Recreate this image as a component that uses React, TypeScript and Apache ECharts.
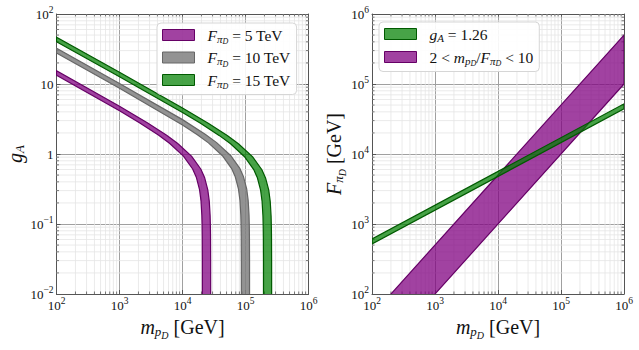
import React, { useEffect, useRef } from "react";
import * as echarts from "echarts";

// ---- Left panel: g_A vs m_pD, lower / upper edge of each band ----
const m5Lo = [100, 1000, 2070, 4140, 6210, 10350, 14490, 16560, 18630, 19665, 20286, 20493, 20596, 20679, 20698, 20699.8];
const g5Lo = [13.38, 4.139, 2.8, 1.865, 1.424, 0.9325, 0.6105, 0.4663, 0.3108, 0.2139, 0.1333, 0.0937, 0.0661, 0.0295, 0.00933, 0.00295];
const m5Hi = [100, 1000, 2800, 5600, 8400, 14000, 19600, 22400, 25200, 26600, 27440, 27720, 27860, 27972, 27997, 27999.7];
const g5Hi = [15.46, 4.811, 2.777, 1.852, 1.414, 0.9258, 0.6061, 0.4629, 0.3086, 0.2124, 0.1323, 0.093, 0.0656, 0.0293, 0.00926, 0.00293];

const m10Lo = [100, 1000, 10000, 17200, 25800, 43000, 60200, 68800, 77400, 81700, 84280, 85140, 85570, 85914, 85991, 85999];
const g10Lo = [27.68, 8.707, 2.603, 1.889, 1.443, 0.9444, 0.6183, 0.4722, 0.3148, 0.2166, 0.135, 0.0949, 0.067, 0.0299, 0.00944, 0.00299];
const m10Hi = [100, 1000, 10000, 23200, 34800, 58000, 81200, 92800, 104400, 110200, 113680, 114840, 115420, 115884, 115988, 115999];
const g10Hi = [32.39, 10.2, 3.098, 1.903, 1.453, 0.9514, 0.6229, 0.4757, 0.3171, 0.2183, 0.136, 0.0956, 0.0675, 0.0301, 0.00951, 0.00301];

const m15Lo = [100, 1000, 10000, 19300, 38600, 57900, 96500, 135100, 154400, 173700, 183350, 189140, 191070, 192035, 192807, 192981, 192998];
const g15Lo = [40.19, 12.68, 3.914, 2.745, 1.83, 1.398, 0.9151, 0.5991, 0.4576, 0.305, 0.2099, 0.1308, 0.092, 0.0649, 0.029, 0.00915, 0.0029];
const m15Hi = [100, 1000, 10000, 26000, 52000, 78000, 130000, 182000, 208000, 234000, 247000, 254800, 257400, 258700, 259740, 259974, 259997];
const g15Hi = [46.47, 14.67, 4.557, 2.735, 1.823, 1.392, 0.9115, 0.5968, 0.4558, 0.3038, 0.2091, 0.1303, 0.0916, 0.0646, 0.0288, 0.00912, 0.00288];

// ---- Right panel: F_piD vs m_pD ----
const mGa = [100, 1000000];
const fGaLo = [519, 44200];
const fGaHi = [610, 51900];
const mRatio = [100, 1000000];
const fRatioLo = [10, 100000]; // m/F = 10
const fRatioHi = [50, 500000]; // m/F = 2

// axis ranges
const xRange = [100, 1000000];
const yRangeL = [0.01, 100];
const yRangeR = [100, 1000000];

const SERIF = '"Liberation Serif", "DejaVu Serif", serif';

const PURPLE_FILL = "rgba(128,0,128,0.74)";
const PURPLE_EDGE = "#660066";
const GRAY_FILL = "rgba(128,128,128,0.85)";
const GRAY_EDGE = "#666666";
const GREEN_FILL = "rgba(0,128,0,0.72)";
const GREEN_EDGE = "#005a00";

const TXT = "#111";

const tickRich = {
  b: { fontFamily: SERIF, fontSize: 13, color: TXT },
  s: { fontFamily: SERIF, fontSize: 9.5, color: TXT, padding: [0, 0, 9, 0] },
};

const nameRich = {
  it: { fontFamily: SERIF, fontStyle: "italic", fontSize: 20, color: TXT },
  sub: { fontFamily: SERIF, fontStyle: "italic", fontSize: 13, color: TXT, padding: [9, 0, 0, 0] },
  subsub: { fontFamily: SERIF, fontStyle: "italic", fontSize: 10, color: TXT, padding: [17, 0, 0, 0] },
  r: { fontFamily: SERIF, fontSize: 20, color: TXT },
};

const legRich = {
  sp: { fontFamily: SERIF, fontSize: 15.5, width: 8 },
  it: { fontFamily: SERIF, fontStyle: "italic", fontSize: 15.5, color: TXT },
  sub: { fontFamily: SERIF, fontStyle: "italic", fontSize: 11, color: TXT, padding: [7, 0, 0, 0] },
  subsub: { fontFamily: SERIF, fontStyle: "italic", fontSize: 8, color: TXT, padding: [13, 0, 0, 0] },
  r: { fontFamily: SERIF, fontSize: 15.5, color: TXT },
};

const powLabel = (v: number) => {
  const e = Math.round(Math.log10(v));
  return `{b|10}{s|${e < 0 ? "\u2212" + -e : e}}`;
};
const powLabelG = (v: number) => {
  const e = Math.round(Math.log10(v));
  if (e === 1) return "{b|10}";
  if (e === 0) return "{b|1}";
  return powLabel(v);
};

const minorValues = (lo: number, hi: number) => {
  const out: number[] = [];
  for (let e = Math.round(Math.log10(lo)); e < Math.round(Math.log10(hi)); e++) {
    for (let k = 2; k <= 9; k++) out.push(k * Math.pow(10, e));
  }
  return out;
};

const FRAME = "#555";
const MAJOR_GRID = "#a0a0a0";
const MINOR_GRID = "#e4e4e4";

function minorXSeries(xi: number, yi: number, yr: number[]) {
  return {
    type: "custom",
    xAxisIndex: xi,
    yAxisIndex: yi,
    z: 1,
    silent: true,
    data: minorValues(xRange[0], xRange[1]).map((v) => [v, yr[0]]),
    renderItem: (_p: any, api: any) => {
      const v = api.value(0);
      const a = api.coord([v, yr[0]]);
      const b = api.coord([v, yr[1]]);
      return {
        type: "group",
        children: [
          { type: "line", shape: { x1: a[0], y1: a[1], x2: b[0], y2: b[1] }, style: { stroke: MINOR_GRID, lineWidth: 0.8 } },
          { type: "line", shape: { x1: a[0], y1: a[1], x2: a[0], y2: a[1] - 2.5 }, style: { stroke: FRAME, lineWidth: 0.8 } },
          { type: "line", shape: { x1: b[0], y1: b[1], x2: b[0], y2: b[1] + 2.5 }, style: { stroke: FRAME, lineWidth: 0.8 } },
        ],
      };
    },
  };
}

function minorYSeries(xi: number, yi: number, yr: number[]) {
  return {
    type: "custom",
    xAxisIndex: xi,
    yAxisIndex: yi,
    z: 1,
    silent: true,
    data: minorValues(yr[0], yr[1]).map((v) => [xRange[0], v]),
    renderItem: (_p: any, api: any) => {
      const v = api.value(1);
      const a = api.coord([xRange[0], v]);
      const b = api.coord([xRange[1], v]);
      return {
        type: "group",
        children: [
          { type: "line", shape: { x1: a[0], y1: a[1], x2: b[0], y2: b[1] }, style: { stroke: MINOR_GRID, lineWidth: 0.8 } },
          { type: "line", shape: { x1: a[0], y1: a[1], x2: a[0] + 2.5, y2: a[1] }, style: { stroke: FRAME, lineWidth: 0.8 } },
          { type: "line", shape: { x1: b[0], y1: b[1], x2: b[0] - 2.5, y2: b[1] }, style: { stroke: FRAME, lineWidth: 0.8 } },
        ],
      };
    },
  };
}

function bandSeries(name: string, xi: number, yi: number, mLo: number[], yLo: number[], mHi: number[], yHi: number[], fill: string, edge: string) {
  return {
    type: "custom",
    name,
    xAxisIndex: xi,
    yAxisIndex: yi,
    clip: true,
    z: 3,
    itemStyle: { color: fill, borderColor: edge, borderWidth: 1 },
    data: [[mLo[0], yLo[0]]],
    renderItem: (_p: any, api: any) => {
      const pts: number[][] = [];
      for (let i = 0; i < mLo.length; i++) pts.push(api.coord([mLo[i], yLo[i]]));
      for (let i = mHi.length - 1; i >= 0; i--) pts.push(api.coord([mHi[i], yHi[i]]));
      return { type: "polygon", shape: { points: pts }, style: { fill, stroke: edge, lineWidth: 1.2 } };
    },
  };
}

function xAxes(gridIndex: number) {
  return [
    {
      type: "log", gridIndex, position: "bottom", min: xRange[0], max: xRange[1], logBase: 10,
      axisLine: { lineStyle: { color: FRAME, width: 1 } },
      axisTick: { inside: true, length: 4, lineStyle: { color: FRAME } },
      axisLabel: { formatter: powLabel, rich: tickRich, margin: 2 },
      splitLine: { show: true, lineStyle: { color: MAJOR_GRID, width: 1 } },
      name: "{it|m}{sub|p}{subsub|D}{r| [GeV]}",
      nameLocation: "middle",
      nameGap: 17,
      nameTextStyle: { rich: nameRich },
    },
    {
      type: "log", gridIndex, position: "top", min: xRange[0], max: xRange[1], logBase: 10,
      axisLine: { lineStyle: { color: FRAME, width: 1 } },
      axisTick: { inside: true, length: 4, lineStyle: { color: FRAME } },
      axisLabel: { show: false },
      splitLine: { show: false },
    },
  ];
}

function yAxes(gridIndex: number, yr: number[], fmt: (v: number) => string, name: string, nameGap: number) {
  return [
    {
      type: "log", gridIndex, position: "left", min: yr[0], max: yr[1], logBase: 10,
      axisLine: { lineStyle: { color: FRAME, width: 1 } },
      axisTick: { inside: true, length: 4, lineStyle: { color: FRAME } },
      axisLabel: { formatter: fmt, rich: tickRich, margin: 3 },
      splitLine: { show: true, lineStyle: { color: MAJOR_GRID, width: 1 } },
      name,
      nameLocation: "middle",
      nameGap,
      nameTextStyle: { rich: nameRich },
    },
    {
      type: "log", gridIndex, position: "right", min: yr[0], max: yr[1], logBase: 10,
      axisLine: { lineStyle: { color: FRAME, width: 1 } },
      axisTick: { inside: true, length: 4, lineStyle: { color: FRAME } },
      axisLabel: { show: false },
      splitLine: { show: false },
    },
  ];
}

const legendLabels: Record<string, string> = {
  F5: "{sp| }{it|F}{sub|\u03c0}{subsub|D}{r| = 5 TeV}",
  F10: "{sp| }{it|F}{sub|\u03c0}{subsub|D}{r| = 10 TeV}",
  F15: "{sp| }{it|F}{sub|\u03c0}{subsub|D}{r| = 15 TeV}",
  GA: "{sp| }{it|g}{sub|A}{r| = 1.26}",
  RATIO: "{sp| }{r|2 < }{it|m}{sub|p}{subsub|D}{r|/}{it|F}{sub|\u03c0}{subsub|D}{r| < 10}",
};

const legendBase = {
  orient: "vertical",
  icon: "rect",
  itemWidth: 32,
  itemHeight: 11,
  backgroundColor: "rgba(255,255,255,0.9)",
  borderColor: "#d6d6d6",
  borderWidth: 1,
  borderRadius: 4,
  selectedMode: false,
  formatter: (n: string) => legendLabels[n],
  textStyle: { rich: legRich },
};

export default function App() {
  const ref = useRef<HTMLDivElement>(null);
  useEffect(() => {
    if (!ref.current) return;
    const chart = echarts.init(ref.current, null, { renderer: "svg" });
    chart.setOption({
      animation: false,
      backgroundColor: "#fff",
      grid: [
        { left: 56.5, top: 14, width: 252, height: 280 },
        { left: 372, top: 14, width: 252, height: 280 },
      ],
      xAxis: [...xAxes(0), ...xAxes(1)],
      yAxis: [
        ...yAxes(0, yRangeL, powLabelG, "{it|g}{sub|A}", 30),
        ...yAxes(1, yRangeR, powLabel, "{it|F}{sub|\u03c0}{subsub|D}{r| [GeV]}", 25),
      ],
      legend: [
        {
          ...legendBase,
          left: 157,
          top: 23,
          itemGap: 4,
          padding: [4, 6, 4, 5],
          data: [
            { name: "F5", itemStyle: { color: PURPLE_FILL, borderColor: PURPLE_EDGE, borderWidth: 1 } },
            { name: "F10", itemStyle: { color: GRAY_FILL, borderColor: GRAY_EDGE, borderWidth: 1 } },
            { name: "F15", itemStyle: { color: GREEN_FILL, borderColor: GREEN_EDGE, borderWidth: 1 } },
          ],
        },
        {
          ...legendBase,
          left: 379,
          top: 22,
          itemGap: 6,
          padding: [4, 6, 4, 5],
          data: [
            { name: "GA", itemStyle: { color: GREEN_FILL, borderColor: GREEN_EDGE, borderWidth: 1 } },
            { name: "RATIO", itemStyle: { color: PURPLE_FILL, borderColor: PURPLE_EDGE, borderWidth: 1 } },
          ],
        },
      ],
      series: [
        minorXSeries(0, 0, yRangeL),
        minorYSeries(0, 0, yRangeL),
        minorXSeries(2, 2, yRangeR),
        minorYSeries(2, 2, yRangeR),
        bandSeries("F5", 0, 0, m5Lo, g5Lo, m5Hi, g5Hi, PURPLE_FILL, PURPLE_EDGE),
        bandSeries("F10", 0, 0, m10Lo, g10Lo, m10Hi, g10Hi, GRAY_FILL, GRAY_EDGE),
        bandSeries("F15", 0, 0, m15Lo, g15Lo, m15Hi, g15Hi, GREEN_FILL, GREEN_EDGE),
        bandSeries("RATIO", 2, 2, mRatio, fRatioLo, mRatio, fRatioHi, PURPLE_FILL, PURPLE_EDGE),
        bandSeries("GA", 2, 2, mGa, fGaLo, mGa, fGaHi, GREEN_FILL, GREEN_EDGE),
      ],
    });
    return () => chart.dispose();
  }, []);
  return <div ref={ref} style={{ position: "absolute", left: 0, top: 0, width: 639, height: 350 }} />;
}
